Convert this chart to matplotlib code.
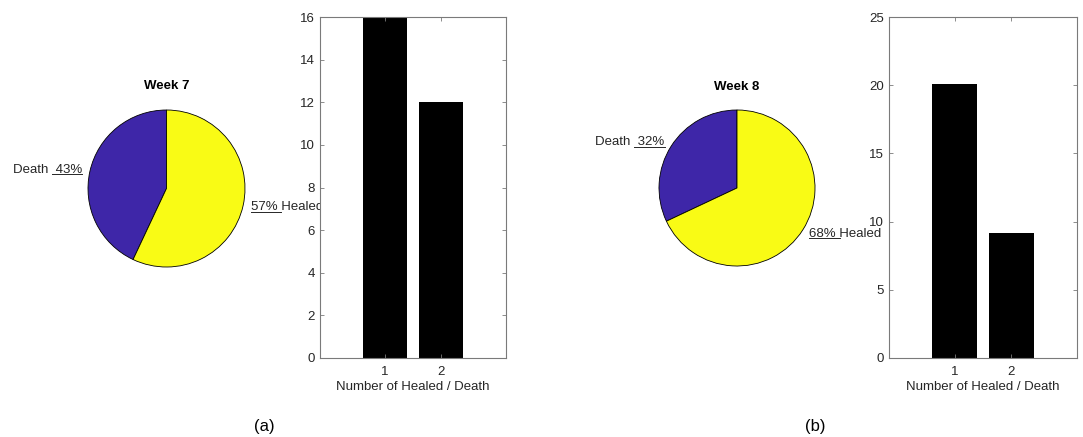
import matplotlib
matplotlib.use("Agg")
import matplotlib.pyplot as plt
from matplotlib.lines import Line2D
import numpy as np

plt.rcParams['font.family'] = ['Liberation Sans', 'DejaVu Sans']

# === Données ===
pie_names = ["Death", "Healed"]
pie_a_pct = [43, 57]
pie_b_pct = [32, 68]
pie_a_labels = ["Death  43%", "57% Healed"]
pie_b_labels = ["Death  32%", "68% Healed"]
pie_a_title = "Week 7"
pie_b_title = "Week 8"

bar_x = [1, 2]
bar_a = [16, 12]
bar_b = [20.1, 9.2]
bar_a_yticks = [0, 2, 4, 6, 8, 10, 12, 14, 16]
bar_b_yticks = [0, 5, 10, 15, 20, 25]
bar_xlabel = "Number of Healed / Death"
captions = ["(a)", "(b)"]

W, H = 1083, 437
fig = plt.figure(figsize=(W / 100, H / 100), dpi=100)

pie_colors = ["#3e26a8", "#f9fb15"]
frame_col = "#7a7a7a"
text_col = "#262626"


def px_box(x0, y0, x1, y1):
    # pixel box (origine en haut à gauche) -> fraction figure
    return [x0 / W, (H - y1) / H, (x1 - x0) / W, (y1 - y0) / H]


def draw_pie(box, pct, labels, title):
    ax = fig.add_axes(px_box(*box))
    wedges, texts = ax.pie(pct, labels=labels, colors=pie_colors, startangle=90,
                           counterclock=True, labeldistance=1.1,
                           wedgeprops=dict(edgecolor="black", linewidth=0.6),
                           textprops=dict(fontsize=9.5, color=text_col))
    ax.set_xlim(-1, 1)
    ax.set_ylim(-1, 1)
    ax.set_aspect("equal")
    ax.axis("off")
    ax.text(0, 1.3, title, ha="center", va="center", fontsize=9.5,
            fontweight="bold", color="black")
    return ax, texts


def draw_bar(box, vals, yticks):
    ax = fig.add_axes(px_box(*box))
    ax.set_facecolor("white")
    ax.bar(bar_x, vals, width=0.8, color="black")
    ax.set_xlim(-0.16, 3.16)
    ax.set_ylim(yticks[0], yticks[-1])
    ax.set_xticks(bar_x)
    ax.set_yticks(yticks)
    ax.tick_params(direction="in", top=True, right=True, length=3,
                   colors=frame_col, labelcolor=text_col, labelsize=9.5, width=0.6)
    ax.tick_params(axis="x", pad=6)
    for s in ax.spines.values():
        s.set_color(frame_col)
        s.set_linewidth(0.8)
    ax.set_xlabel(bar_xlabel, fontsize=9.5, color=text_col, labelpad=2)
    return ax


ax_pa, texts_a = draw_pie((88, 110, 245, 267), pie_a_pct, pie_a_labels, pie_a_title)
ax_ba = draw_bar((320, 17, 506, 358), bar_a, bar_a_yticks)
ax_pb, texts_b = draw_pie((659, 110, 815, 266), pie_b_pct, pie_b_labels, pie_b_title)
ax_bb = draw_bar((889, 17, 1077, 358), bar_b, bar_b_yticks)

fig.text(264 / W, 1 - 426 / H, captions[0], ha="center", va="center", fontsize=12)
fig.text(815 / W, 1 - 426 / H, captions[1], ha="center", va="center", fontsize=12)

# soulignement des pourcentages
fig.canvas.draw()
rend = fig.canvas.get_renderer()


def underline(txt, part, at_end):
    bb = txt.get_window_extent(rend)
    tmp = fig.text(0, 0, part, fontsize=txt.get_fontsize())
    w = tmp.get_window_extent(rend).width
    tmp.remove()
    sp = 0.28 * txt.get_fontsize() * 100 / 72
    if at_end:
        x0, x1 = bb.x1 - w - sp, bb.x1
    else:
        x0, x1 = bb.x0, bb.x0 + w + sp
    y = bb.y0 + 1.5
    fig.add_artist(Line2D([x0 / W, x1 / W], [y / H, y / H], transform=fig.transFigure,
                          color=text_col, linewidth=0.7, zorder=0.5))


underline(texts_a[0], "43%", True)
underline(texts_a[1], "57%", False)
underline(texts_b[0], "32%", True)
underline(texts_b[1], "68%", False)

fig.savefig("out.png", dpi=100)
